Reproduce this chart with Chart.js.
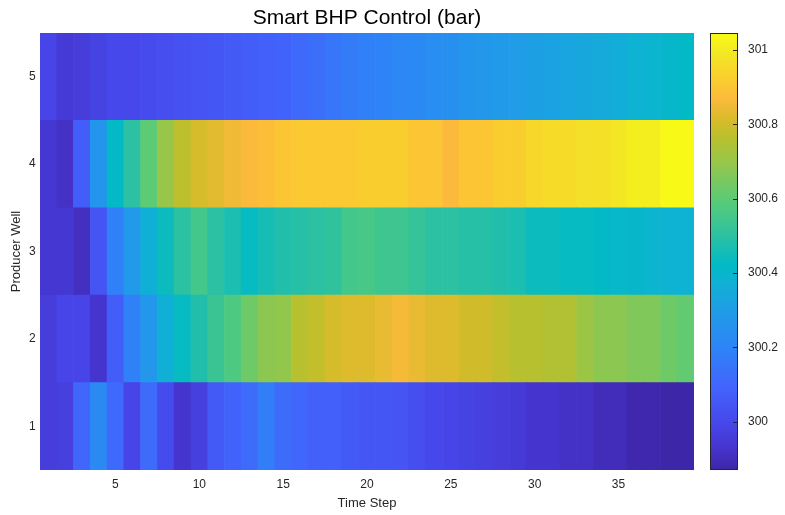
<!DOCTYPE html>
<html>
<head>
<meta charset="utf-8">
<script src="https://cdn.jsdelivr.net/npm/chart.js@4.4.0/dist/chart.umd.min.js"></script>
<style>
  html, body { margin: 0; padding: 0; background: #fff; }
  #wrap { position: relative; width: 785px; height: 515px; }
  #heat { position: absolute; left: 0; top: 0; }
  #cbar { position: absolute; left: 700px; top: 0; }
</style>
</head>
<body>
<div id="wrap">
  <canvas id="heat" width="734" height="515"></canvas>
  <canvas id="cbar" width="85" height="515"></canvas>
</div>
<script>
// data
const timeSteps = [1,2,3,4,5,6,7,8,9,10,11,12,13,14,15,16,17,18,19,20,
  21,22,23,24,25,26,27,28,29,30,31,32,33,34,35,36,37,38,39];
const wells = [1, 2, 3, 4, 5];

const well1 = [299.96,299.97,300.10,300.22,300.11,299.99,300.12,300.01,299.93,299.97,
  300.06,300.09,300.12,300.18,300.12,300.10,300.08,300.08,300.06,300.05,
  300.05,300.04,300.02,300.00,299.99,299.98,299.97,299.96,299.95,299.93,
  299.93,299.92,299.92,299.90,299.90,299.88,299.88,299.87,299.87];
const well2 = [299.96,299.99,299.99,299.93,300.07,300.19,300.28,300.37,300.43,300.48,
  300.53,300.57,300.63,300.68,300.69,300.76,300.78,300.81,300.82,300.82,
  300.84,300.86,300.84,300.82,300.82,300.80,300.80,300.78,300.76,300.76,
  300.75,300.75,300.71,300.68,300.68,300.66,300.66,300.63,300.61];
const well3 = [299.94,299.94,299.91,300.04,300.19,300.29,300.37,300.44,300.50,300.55,
  300.50,300.47,300.43,300.46,300.48,300.49,300.50,300.51,300.55,300.56,
  300.54,300.54,300.52,300.50,300.50,300.49,300.49,300.48,300.47,300.44,
  300.44,300.43,300.43,300.42,300.41,300.40,300.39,300.38,300.38];
const well4 = [299.94,299.92,300.07,300.27,300.42,300.50,300.60,300.70,300.77,300.81,
  300.83,300.85,300.87,300.88,300.90,300.91,300.91,300.91,300.91,300.92,
  300.92,300.92,300.90,300.90,300.87,300.90,300.90,300.92,300.92,300.95,
  300.96,300.96,300.97,300.97,300.99,301.01,301.01,301.04,301.04];
const well5 = [299.99,299.95,299.96,299.98,300.00,300.00,300.01,300.02,300.03,300.04,
  300.05,300.06,300.07,300.08,300.09,300.11,300.13,300.15,300.17,300.19,
  300.20,300.21,300.22,300.24,300.25,300.27,300.28,300.29,300.30,300.31,
  300.32,300.33,300.34,300.35,300.36,300.38,300.39,300.40,300.42];

const cbTicks = [300, 300.2, 300.4, 300.6, 300.8, 301];
const cMin = 299.87;
const cMax = 301.046;

// parula-like colormap stops [t, r, g, b]
const parula = [
  [0.00, 62, 38, 168], [0.05, 69, 52, 205], [0.11, 71, 72, 236],
  [0.19, 66, 100, 252], [0.28, 46, 132, 247], [0.36, 33, 155, 232],
  [0.43, 15, 177, 212], [0.47, 2, 186, 197], [0.53, 40, 192, 165],
  [0.61, 85, 203, 122], [0.70, 148, 199, 76], [0.76, 185, 192, 45],
  [0.80, 215, 187, 42], [0.85, 252, 186, 60], [0.90, 250, 208, 45],
  [0.95, 243, 230, 38], [1.00, 249, 251, 20]
];

function mapColor(t) {
  t = Math.max(0, Math.min(1, t));
  for (let i = 1; i < parula.length; i++) {
    const a = parula[i - 1], b = parula[i];
    if (t <= b[0]) {
      const f = (t - a[0]) / (b[0] - a[0]);
      const c = [1, 2, 3].map(k => Math.round(a[k] + (b[k] - a[k]) * f));
      return `rgb(${c[0]},${c[1]},${c[2]})`;
    }
  }
  return 'rgb(249,251,20)';
}
const colorOf = v => mapColor((v - cMin) / (cMax - cMin));

const wellSeries = [well1, well2, well3, well4, well5];
const fontFam = 'Liberation Sans, Arial, Helvetica, sans-serif';
const tickFont = { family: fontFam, size: 12 };
const labelFont = { family: fontFam, size: 13 };
const textColor = '#262626';

new Chart(document.getElementById('heat'), {
  type: 'bar',
  data: {
    labels: timeSteps,
    datasets: wells.map((w, i) => ({
      label: 'Well ' + w,
      data: wellSeries[i].map(() => [w - 0.5, w + 0.5]),
      backgroundColor: wellSeries[i].map(colorOf),
      borderWidth: 0,
      grouped: false,
      barPercentage: 1,
      categoryPercentage: 1
    }))
  },
  options: {
    responsive: false,
    animation: false,
    layout: { padding: { left: 40, right: 40, top: 0, bottom: 0 } },
    plugins: {
      legend: { display: false },
      tooltip: { enabled: false },
      title: {
        display: true,
        text: 'Smart BHP Control (bar)',
        color: '#000',
        font: { family: fontFam, size: 21, weight: 'normal' },
        padding: { top: 6, bottom: 1.8 }
      }
    },
    scales: {
      x: {
        type: 'category',
        offset: true,
        grid: { display: false, drawTicks: false },
        border: { display: false },
        ticks: {
          autoSkip: false, maxRotation: 0, padding: 7,
          color: textColor, font: tickFont,
          callback: (val, idx) => timeSteps[idx] % 5 === 0 ? String(timeSteps[idx]) : ''
        },
        title: { display: true, text: 'Time Step', color: textColor, font: labelFont, padding: { top: 4, bottom: 4 } },
        afterFit: s => { s.height = 45; }
      },
      y: {
        type: 'linear',
        min: 0.5,
        max: 5.5,
        afterBuildTicks: s => { s.ticks = wells.map(v => ({ value: v })); },
        grid: { display: false, drawTicks: false },
        border: { display: false },
        ticks: { mirror: true, crossAlign: 'far', padding: -11, color: textColor, font: tickFont },
        title: { display: true, text: 'Producer Well', color: textColor, font: labelFont, padding: { top: -31, bottom: 0 } },
        afterFit: s => { s.width = 0; }
      }
    }
  }
});

const cbarFrame = {
  id: 'cbarFrame',
  afterDatasetsDraw(chart) {
    const { ctx, chartArea: a, scales: { y } } = chart;
    ctx.save();
    ctx.strokeStyle = '#262626';
    ctx.lineWidth = 1;
    ctx.strokeRect(a.left + 0.5, a.top + 0.5, a.width - 1, a.height - 1);
    y.ticks.forEach(t => {
      const py = Math.round(y.getPixelForValue(t.value)) + 0.5;
      ctx.beginPath();
      ctx.moveTo(a.right - 1, py);
      ctx.lineTo(a.right - 5, py);
      ctx.stroke();
    });
    ctx.restore();
  }
};

new Chart(document.getElementById('cbar'), {
  type: 'bar',
  data: {
    labels: [''],
    datasets: [{
      data: [[cMin, cMax]],
      backgroundColor: c => {
        const area = c.chart.chartArea;
        if (!area) return colorOf(cMin);
        const g = c.chart.ctx.createLinearGradient(0, area.bottom, 0, area.top);
        parula.forEach(s => g.addColorStop(s[0], `rgb(${s[1]},${s[2]},${s[3]})`));
        return g;
      },
      borderWidth: 0,
      barPercentage: 1,
      categoryPercentage: 1
    }]
  },
  options: {
    responsive: false,
    animation: false,
    layout: { padding: { left: 10, right: 0, top: 33, bottom: 45 } },
    plugins: { legend: { display: false }, tooltip: { enabled: false } },
    scales: {
      x: { display: false },
      y: {
        position: 'right',
        min: cMin,
        max: cMax,
        afterBuildTicks: s => { s.ticks = cbTicks.map(v => ({ value: v })); },
        grid: { display: false, drawTicks: false },
        border: { display: false },
        ticks: {
          padding: 10, color: textColor, font: tickFont,
          callback: v => String(Math.round(v * 10) / 10)
        },
        afterFit: s => { s.width = 47; }
      }
    }
  },
  plugins: [cbarFrame]
});
</script>
</body>
</html>
